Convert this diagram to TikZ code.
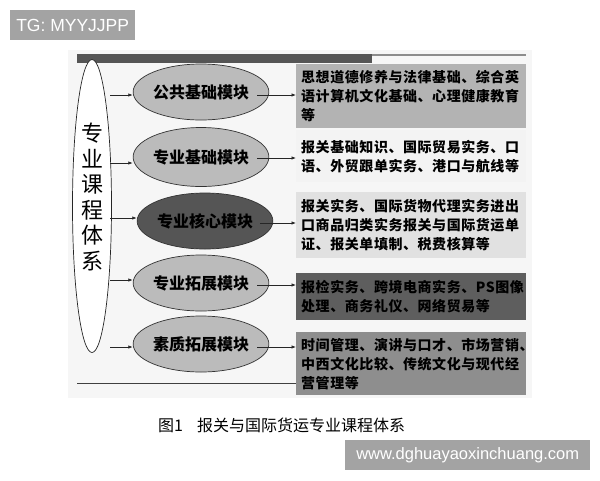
\documentclass[tikz,border=0pt]{standalone}
\usepackage{fontspec}
\setmainfont{Liberation Sans}
\newfontfamily\cjk{Noto Sans CJK SC}
\newfontfamily\cjksp{Noto Sans CJK SC}[LetterSpace=4]
\usetikzlibrary{shapes.geometric,arrows.meta}
\definecolor{bgc}{HTML}{F6F6F6}
\definecolor{barc}{HTML}{555555}
\definecolor{modc}{HTML}{BBBBBB}
\definecolor{modd}{HTML}{555555}
\definecolor{boxa}{HTML}{B3B3B3}
\definecolor{boxb}{HTML}{F3F3F3}
\definecolor{boxc}{HTML}{E1E1E1}
\definecolor{boxd}{HTML}{5E5E5E}
\definecolor{boxe}{HTML}{8E8E8E}
\definecolor{wmc}{HTML}{A3A3A3}
\begin{document}
\begin{tikzpicture}[x=1pt,y=-1pt,
  module/.style={ellipse, draw=black!80, line width=0.7pt, fill=modc, minimum width=112pt, minimum height=56pt, inner sep=0pt, font=\cjk\bfseries\fontsize{16}{16}\selectfont},
  arr/.style={draw=black!85, line width=0.7pt, -{Latex[length=4.5pt,width=3.5pt]}},
  cbox/.style={anchor=north west, minimum width=230pt, inner xsep=5pt, inner ysep=0pt, text width=220pt, align=left, font=\cjksp\bfseries\fontsize{14}{19}\selectfont},
  wm/.style={anchor=north west, fill=wmc, text=white, inner sep=0pt, minimum height=30pt}
]
\useasboundingbox (0,0) rectangle (600,480);
\fill[white] (0,0) rectangle (600,480);
\fill[bgc] (68,50) rectangle (532,398);
% top bar
\fill[barc] (77,54) rectangle (372,63);
\draw[black!45, line width=1.2pt] (372,55) -- (526,55);
% left ellipse
\node[ellipse, draw=black!85, line width=0.7pt, fill=white, minimum width=39pt, minimum height=293pt, inner sep=0pt] (sys) at (92,206) {};
\node[font=\cjk\fontsize{22}{25.5}\selectfont, align=center, inner sep=0pt] (syst) at (92,197) {专\\业\\课\\程\\体\\系};
% modules
\node[module] (m1) at (201,92) {公共基础模块};
\node[module, minimum height=59pt] (m2) at (201,157) {专业基础模块};
\node[module, fill=modd] (m3) at (205,221) {专业核心模块};
\node[module] (m4) at (201,283) {专业拓展模块};
\node[module] (m5) at (201,344) {素质拓展模块};
% boxes
\node[cbox, fill=boxa, minimum height=64pt] (b1) at (296,64) {思想道德修养与法律基础、综合英\\语计算机文化基础、心理健康教育\\等};
\node[cbox, fill=boxb, minimum height=52pt] (b2) at (296,130) {报关基础知识、国际贸易实务、口\\语、外贸跟单实务、港口与航线等};
\node[cbox, fill=boxc, minimum height=66pt] (b3) at (296,192) {报关实务、国际货物代理实务进出\\口商品归类实务报关与国际货运单\\证、报关单填制、税费核算等};
\node[cbox, fill=boxd, minimum height=47pt] (b4) at (296,273) {报检实务、跨境电商实务、PS图像\\处理、商务礼仪、网络贸易等};
\node[cbox, fill=boxe, minimum height=63pt] (b5) at (296,332) {时间管理、演讲与口才、市场营销、\\中西文化比较、传统文化与现代经\\营管理等};
% left arrows
\coordinate (s1) at (110,95);
\coordinate (s2) at (110,163);
\coordinate (s3) at (110,218);
\coordinate (s4) at (110,280);
\coordinate (s5) at (110,347);
\draw[arr] (s1) -- (s1 -| m1.west);
\draw[arr] (s2) -- (s2 -| m2.west);
\draw[arr] (s3) -- (s3 -| m3.west);
\draw[arr] (s4) -- (s4 -| m4.west);
\draw[arr] (s5) -- (s5 -| m5.west);
% right arrows
\coordinate (r1) at (257,95);
\coordinate (r2) at (257,158);
\coordinate (r3) at (260,223);
\coordinate (r4) at (257,285);
\coordinate (r5) at (257,347);
\draw[arr] (r1) -- (r1 -| b1.west);
\draw[arr] (r2) -- (r2 -| b2.west);
\draw[arr] (r3) -- (r3 -| b3.west);
\draw[arr] (r4) -- (r4 -| b4.west);
\draw[arr] (r5) -- (r5 -| b5.west);
% bottom line
\coordinate (bl) at (77,383);
\draw[black!75, line width=0.7pt] (bl) -- (bl -| b5.west);
% caption
\node[anchor=west, inner sep=0pt, font=\cjk\fontsize{16}{16}\selectfont] (cap) at (158,425) {图1\hspace{14pt}报关与国际货运专业课程体系};
% watermarks
\node[wm, minimum width=125pt, font=\fontsize{17.5}{17.5}\selectfont] (wm1) at (10,10) {TG: MYYJJPP};
\node[wm, minimum width=245pt, font=\fontsize{16.5}{16.5}\selectfont] (wm2) at (345,440) {www.dghuayaoxinchuang.com};
\end{tikzpicture}
\end{document}
